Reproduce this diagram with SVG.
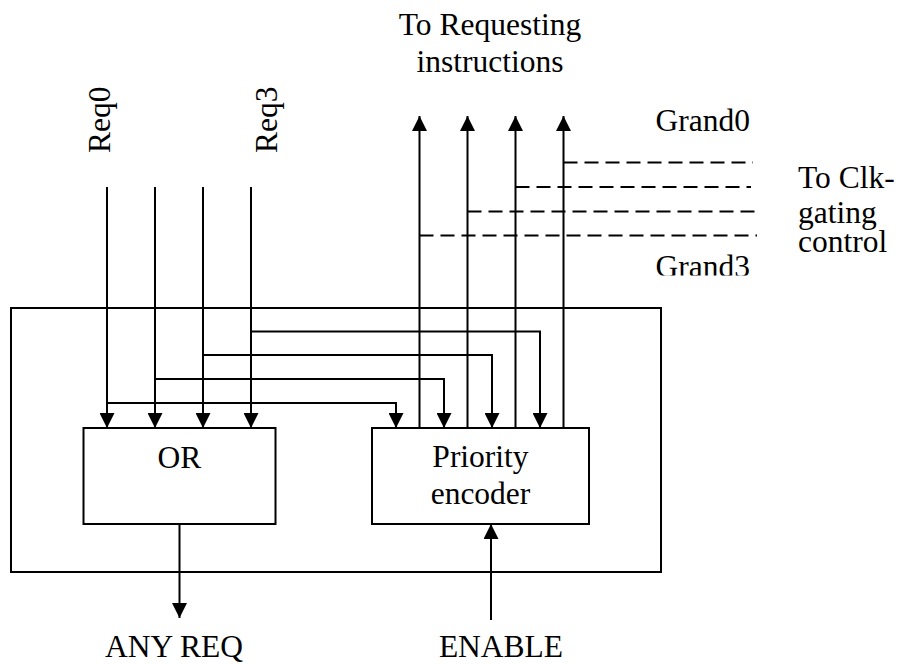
<svg xmlns="http://www.w3.org/2000/svg" width="900" height="664" viewBox="0 0 900 664">
<style>
.t{font-family:"Liberation Serif","Times New Roman",serif;font-size:31.5px;fill:#000}
.w{fill:none;stroke:#000;stroke-width:2}
.a{marker-end:url(#arr)}
.d{fill:none;stroke:#000;stroke-width:2;stroke-dasharray:14 7}
.b{fill:#fff;stroke:#000;stroke-width:2}
</style>
<defs>
<marker id="arr" markerUnits="userSpaceOnUse" markerWidth="15" markerHeight="15" refX="15" refY="7.5" orient="auto" viewBox="0 0 15 15">
<path d="M0,0 L15,7.5 L0,15 z" fill="#000"/>
</marker>
<clipPath id="g3clip"><rect x="600" y="240" width="200" height="35.5"/></clipPath>
</defs>
<g id="outer"><rect class="w" x="11" y="308" width="650" height="264"/></g>
<g id="connectors">
<path class="w a" d="M107,187 V428"/>
<path class="w a" d="M155,187 V428"/>
<path class="w a" d="M203,187 V428"/>
<path class="w a" d="M251,187 V428"/>
<path class="w a" d="M107,403 H396 V428"/>
<path class="w a" d="M155,379 H444 V428"/>
<path class="w a" d="M203,355 H492 V428"/>
<path class="w a" d="M251,331.5 H540 V428"/>
<path class="w a" d="M419.5,428 V116"/>
<path class="w a" d="M467.5,428 V116"/>
<path class="w a" d="M515.5,428 V116"/>
<path class="w a" d="M563.5,428 V116"/>
<path class="d" d="M563.5,162.5 H753"/>
<path class="d" d="M515.5,187 H751"/>
<path class="d" d="M467.5,211.5 H757"/>
<path class="d" d="M419.5,235.5 H757"/>
<path class="w a" d="M179.5,524 V618"/>
<path class="w a" d="M491,620 V524"/>
</g>
<g id="or"><rect class="b" x="83.5" y="428" width="192" height="96"/><text class="t" x="179.5" y="468" text-anchor="middle">OR</text></g>
<g id="pe"><rect class="b" x="372" y="428" width="217" height="96"/><text class="t" x="480.5" y="467" text-anchor="middle">Priority</text><text class="t" x="480.5" y="503.5" text-anchor="middle">encoder</text></g>
<g id="labels">
<text class="t" transform="translate(110,153) rotate(-90)">Req0</text>
<text class="t" transform="translate(277,153) rotate(-90)">Req3</text>
<text class="t" x="490" y="35" text-anchor="middle">To Requesting</text>
<text class="t" x="490" y="72" text-anchor="middle">instructions</text>
<text class="t" x="750" y="131" text-anchor="end">Grand0</text>
<text class="t" x="750" y="277" text-anchor="end" clip-path="url(#g3clip)">Grand3</text>
<text class="t" x="798" y="187.5">To Clk-</text>
<text class="t" x="798" y="222.5">gating</text>
<text class="t" x="798" y="251.5">control</text>
<text class="t" x="174" y="657" text-anchor="middle">ANY REQ</text>
<text class="t" x="501" y="657" text-anchor="middle">ENABLE</text>
</g>
</svg>
